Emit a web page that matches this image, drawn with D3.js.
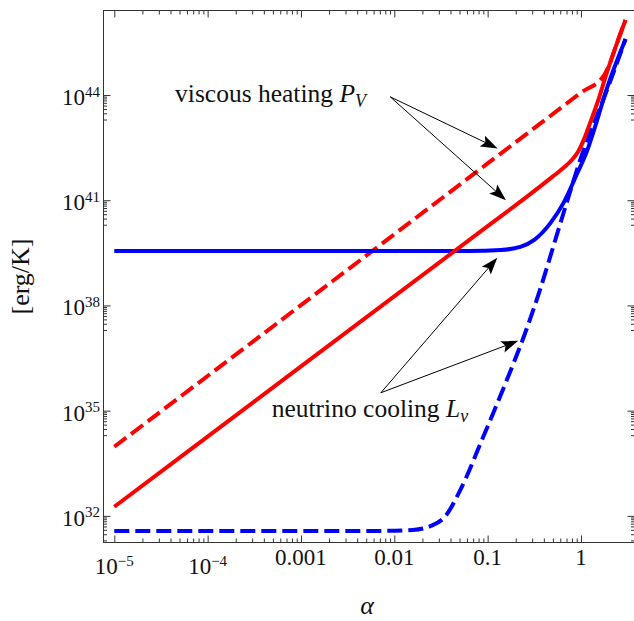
<!DOCTYPE html>
<html>
<head>
<meta charset="utf-8">
<script src="https://cdn.jsdelivr.net/npm/d3@7"></script>
<style>
  body { margin: 0; background: #fff; }
  svg { display: block; font-family: "Liberation Serif", "Times New Roman", serif; }
</style>
</head>
<body>
<svg id="chart" width="634" height="621"></svg>
<script>
// ---- tick values and labels ----
const alphaTicks = [1e-5, 1e-4, 1e-3, 1e-2, 1e-1, 1];
const alphaTickLabels = ["10^−5", "10^−4", "0.001", "0.01", "0.1", "1"];
const powerTicks = [1e32, 1e35, 1e38, 1e41, 1e44];
const powerTickLabels = ["10^32", "10^35", "10^38", "10^41", "10^44"];

// ---- viscous heating P_V (solid) ----
const heatingAlpha = [1e-5, 1e-3, 0.1, 0.3, 0.5, 0.6, 0.7, 0.8, 0.93, 1.07, 1.25, 1.5, 1.9, 2.43, 3.0];
const heatingValue = [1.82e32, 1.82e36, 1.82e40, 1.64e41, 4.79e41, 7.08e41, 1.0e42, 1.41e42, 2.40e42, 5.25e42, 1.58e43, 6.03e43, 4.47e44, 3.02e45, 1.38e46];

// ---- viscous heating P_V (dashed) ----
const heatingDashedAlpha = [1e-5, 1e-3, 0.1, 1, 1.78, 2.0, 2.43, 3.0];
const heatingDashedValue = [9.33e33, 1.02e38, 1.12e42, 1.17e44, 3.76e44, 7.08e44, 3.02e45, 1.38e46];

// ---- neutrino cooling L_nu (solid) ----
const coolingAlpha = [1e-5, 0.063, 0.138, 0.224, 0.316, 0.468, 0.646, 0.912, 1.16, 1.38, 1.9, 3.0];
const coolingValue = [3.55e39, 3.55e39, 3.8e39, 4.68e39, 7.41e39, 2.19e40, 8.13e40, 5.89e41, 2.51e42, 1.0e43, 1.58e44, 3.89e45];

// ---- neutrino cooling L_nu (dashed) ----
const coolingDashedAlpha = [1e-5, 0.0063, 0.0158, 0.0251, 0.0355, 0.0501, 0.0912, 0.162, 0.251, 0.363, 0.531, 0.736, 0.98, 1.2, 1.58, 2.0, 3.0];
const coolingDashedValue = [3.72e31, 3.72e31, 3.98e31, 5.25e31, 1.0e32, 5.01e32, 2.0e34, 7.94e35, 1.58e37, 2.75e38, 7.41e39, 1.26e41, 1.41e42, 6.31e42, 3.98e43, 2.0e44, 3.98e45];

// ---- annotation anchors, in (alpha, value) ----
const heatingLabelAt = [4.48e-5, 6.3e43];
const heatingArrowFrom = [0.00903, 8.9e43];
const heatingArrowTo = [[0.128, 3.0e42], [0.157, 1.0e41]];
const coolingLabelAt = [4.86e-4, 6.8e34];
const coolingArrowFrom = [0.00718, 3.24e35];
const coolingArrowTo = [[0.213, 9.8e36], [0.127, 2.3e39]];

const svg = d3.select("#chart");
const plotLeft = 103.5, plotRight = 634.5, plotTop = 10.5, plotBottom = 542.5;

const x = d3.scaleLog().domain([7.66e-6, 3.745]).range([plotLeft, plotRight]);
const y = d3.scaleLog().domain([1.74e31, 2.57e46]).range([plotBottom, plotTop]);

// minor ticks
const minorAlpha = [];
for (let e = -5; e <= -1; e++) for (let k = 2; k <= 9; k++) minorAlpha.push(k * Math.pow(10, e));
const minorPower = [];
powerTicks.forEach(v => { for (let k = 2; k <= 9; k++) minorPower.push(k * v / 10); });

const tickColor = "#333";
function styleAxis(g) {
  g.select(".domain").remove();
  g.selectAll(".tick line").attr("stroke", tickColor).attr("stroke-width", 1);
}

// major + minor ticks on all four sides, pointing inward
[[d3.axisBottom, plotBottom], [d3.axisTop, plotTop]].forEach(([ax, pos]) => {
  svg.append("g").attr("transform", `translate(0,${pos})`)
    .call(ax(x).tickValues(alphaTicks).tickSizeInner(-7).tickSizeOuter(0).tickFormat(""))
    .call(styleAxis);
  svg.append("g").attr("transform", `translate(0,${pos})`)
    .call(ax(x).tickValues(minorAlpha).tickSizeInner(-4).tickSizeOuter(0).tickFormat(""))
    .call(styleAxis);
});
[[d3.axisLeft, plotLeft], [d3.axisRight, plotRight]].forEach(([ax, pos]) => {
  svg.append("g").attr("transform", `translate(${pos},0)`)
    .call(ax(y).tickValues(powerTicks).tickSizeInner(-7).tickSizeOuter(0).tickFormat(""))
    .call(styleAxis);
  svg.append("g").attr("transform", `translate(${pos},0)`)
    .call(ax(y).tickValues(minorPower).tickSizeInner(-3.5).tickSizeOuter(0).tickFormat(""))
    .call(styleAxis);
});

// frame
svg.append("rect")
  .attr("x", plotLeft).attr("y", plotTop)
  .attr("width", plotRight - plotLeft).attr("height", plotBottom - plotTop)
  .attr("fill", "none").attr("stroke", tickColor).attr("stroke-width", 1);

// tick labels with superscripts
function powerLabel(sel, label, supSize, supDy) {
  const parts = label.split("^");
  sel.append("tspan").text(parts[0]);
  if (parts.length > 1) {
    sel.append("tspan").attr("font-size", supSize).attr("dy", supDy).text(parts[1]);
  }
}
alphaTicks.forEach((v, i) => {
  const lab = alphaTickLabels[i];
  const isPow = lab.includes("^");
  const t = svg.append("text")
    .attr("x", x(v)).attr("y", isPow ? 573.5 : 564.5)
    .attr("text-anchor", "middle").attr("font-size", 23).attr("fill", "#111");
  powerLabel(t, lab, 15, -8);
});
powerTicks.forEach((v, i) => {
  const t = svg.append("text")
    .attr("x", 100).attr("y", y(v) + 10)
    .attr("text-anchor", "end").attr("font-size", 23).attr("fill", "#111");
  powerLabel(t, powerTickLabels[i], 15, -8.5);
});

// axis titles
svg.append("text")
  .attr("transform", `translate(29,${(plotTop + plotBottom) / 2}) rotate(-90)`)
  .attr("text-anchor", "middle").attr("font-size", 26).attr("fill", "#111")
  .text("[erg/K]");
svg.append("text")
  .attr("x", 367).attr("y", 614)
  .attr("text-anchor", "middle").attr("font-size", 26).attr("font-style", "italic").attr("fill", "#111")
  .text("α");

// curves
const line = d3.line().x(d => x(d[0])).y(d => y(d[1])).curve(d3.curveMonotoneX);
const plotArea = svg.append("g");
function drawCurve(alpha, value, color, dashed) {
  plotArea.append("path")
    .datum(alpha.map((a, i) => [a, value[i]]))
    .attr("d", line)
    .attr("fill", "none")
    .attr("stroke", color)
    .attr("stroke-width", 4)
    .attr("stroke-dasharray", dashed ? "15,6" : null)
    .attr("stroke-linejoin", "round");
}
drawCurve(coolingDashedAlpha, coolingDashedValue, "#0000ff", true);
drawCurve(heatingDashedAlpha, heatingDashedValue, "#ff0000", true);
drawCurve(coolingAlpha, coolingValue, "#0000ff", false);
drawCurve(heatingAlpha, heatingValue, "#ff0000", false);

// arrows
function arrow(from, to) {
  const x0 = x(from[0]), y0 = y(from[1]);
  const x1 = x(to[0]), y1 = y(to[1]);
  const len = Math.hypot(x1 - x0, y1 - y0);
  const ux = (x1 - x0) / len, uy = (y1 - y0) / len;
  const nx = -uy, ny = ux;
  const L = 17, W = 6;
  svg.append("line")
    .attr("x1", x0).attr("y1", y0)
    .attr("x2", x1 - ux * L * 0.7).attr("y2", y1 - uy * L * 0.7)
    .attr("stroke", "#000").attr("stroke-width", 1);
  const pts = [
    [x1, y1],
    [x1 - ux * L + nx * W, y1 - uy * L + ny * W],
    [x1 - ux * L * 0.8, y1 - uy * L * 0.8],
    [x1 - ux * L - nx * W, y1 - uy * L - ny * W]
  ];
  svg.append("polygon").attr("points", pts.map(p => p.join(",")).join(" ")).attr("fill", "#000");
}
heatingArrowTo.forEach(t => arrow(heatingArrowFrom, t));
coolingArrowTo.forEach(t => arrow(coolingArrowFrom, t));

// annotation labels
function annotation(at, text, sym, sub) {
  const t = svg.append("text")
    .attr("x", x(at[0])).attr("y", y(at[1]))
    .attr("font-size", 25.5).attr("fill", "#111");
  t.append("tspan").text(text);
  t.append("tspan").attr("font-style", "italic").text(sym);
  t.append("tspan").attr("font-style", "italic").attr("font-size", 18).attr("dy", 5).text(sub);
}
annotation(heatingLabelAt, "viscous heating ", "P", "V");
annotation(coolingLabelAt, "neutrino cooling ", "L", "ν");
</script>
</body>
</html>
